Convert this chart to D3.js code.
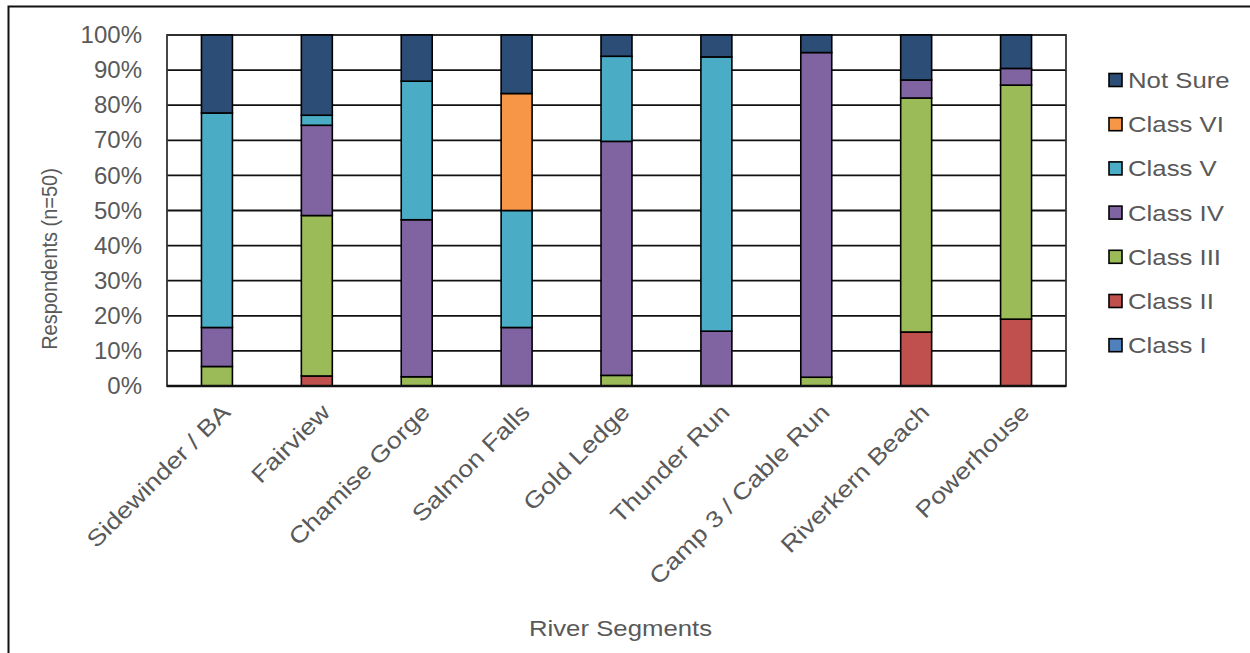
<!DOCTYPE html>
<html>
<head>
<meta charset="utf-8">
<script src="https://cdn.jsdelivr.net/npm/d3@7"></script>
<style>
  html, body { margin: 0; padding: 0; background: #fff; }
  svg { display: block; font-family: "Liberation Sans", Arial, sans-serif; }
</style>
</head>
<body>
<svg id="chart" width="1250" height="653"></svg>
<script>
// River segments surveyed
const categories = ["Sidewinder / BA", "Fairview", "Chamise Gorge", "Salmon Falls", "Gold Ledge",
                    "Thunder Run", "Camp 3 / Cable Run", "Riverkern Beach", "Powerhouse"];

// Percent of respondents per difficulty rating
const classI   = [0, 0, 0, 0, 0, 0, 0, 0, 0];
const classII  = [0, 2.86, 0, 0, 0, 0, 0, 15.38, 19.05];
const classIII = [5.56, 45.71, 2.63, 0, 3.03, 0, 2.5, 66.67, 66.67];
const classIV  = [11.11, 25.71, 44.74, 16.67, 66.67, 15.62, 92.5, 5.13, 4.76];
const classV   = [61.11, 2.86, 39.47, 33.33, 24.24, 78.13, 0, 0, 0];
const classVI  = [0, 0, 0, 33.33, 0, 0, 0, 0, 0];
const notSure  = [22.22, 22.86, 13.16, 16.67, 6.06, 6.25, 5.0, 12.82, 9.52];

const seriesNames = ["Class I", "Class II", "Class III", "Class IV", "Class V", "Class VI", "Not Sure"];
const seriesValues = [classI, classII, classIII, classIV, classV, classVI, notSure];
const seriesColors = ["#4F81BD", "#C0504D", "#9BBB59", "#8064A2", "#4BACC6", "#F79646", "#2C4D75"];

const yTicks = [0, 10, 20, 30, 40, 50, 60, 70, 80, 90, 100];

const svg = d3.select("#chart");
const textColor = "#595959";
const fontSize = 23;
const wide = 1.12; // horizontal stretch used for the wider labels

// outer chart frame
svg.append("rect")
  .attr("x", 8.5).attr("y", 6.5)
  .attr("width", 1300).attr("height", 700)
  .attr("fill", "none").attr("stroke", "#111").attr("stroke-width", 2);

const plot = { left: 167, right: 1066, top: 35, bottom: 386 };

const x = d3.scaleBand().domain(categories).range([plot.left, plot.right]).paddingInner(0.69).paddingOuter(0.345);
const y = d3.scaleLinear().domain([0, 100]).range([plot.bottom, plot.top]);

// horizontal gridlines
svg.append("g")
  .selectAll("line")
  .data(yTicks)
  .join("line")
  .attr("x1", plot.left).attr("x2", plot.right)
  .attr("y1", d => y(d)).attr("y2", d => y(d))
  .attr("stroke", "#111").attr("stroke-width", 1.8);

// plot border
svg.append("rect")
  .attr("x", plot.left).attr("y", plot.top)
  .attr("width", plot.right - plot.left).attr("height", plot.bottom - plot.top)
  .attr("fill", "none").attr("stroke", "#333").attr("stroke-width", 1.8);

// stacked data
const rows = categories.map((c, i) => {
  const r = { category: c };
  seriesNames.forEach((s, k) => { r[s] = seriesValues[k][i]; });
  return r;
});
const stacked = d3.stack().keys(seriesNames)(rows);

svg.append("g")
  .selectAll("g")
  .data(stacked)
  .join("g")
  .attr("fill", (d, i) => seriesColors[i])
  .selectAll("rect")
  .data(d => d.filter(p => p[1] - p[0] > 0))
  .join("rect")
  .attr("x", d => x(d.data.category))
  .attr("width", x.bandwidth())
  .attr("y", d => y(d[1]))
  .attr("height", d => y(d[0]) - y(d[1]))
  .attr("stroke", "#000").attr("stroke-width", 1.6);

// axis baseline
svg.append("line")
  .attr("x1", plot.left).attr("x2", plot.right)
  .attr("y1", plot.bottom).attr("y2", plot.bottom)
  .attr("stroke", "#111").attr("stroke-width", 2.4);

// y axis labels
const yAxis = d3.axisLeft(y).tickValues(yTicks).tickFormat(d => d + "%").tickSize(0).tickPadding(25);
const yg = svg.append("g").attr("transform", `translate(${plot.left},0)`).call(yAxis);
yg.select(".domain").remove();
yg.selectAll("text").attr("fill", textColor).attr("font-size", 24)
  .attr("font-family", "Liberation Sans, Arial, sans-serif");

// x axis labels (rotated)
const xg = svg.append("g");
xg.selectAll("text")
  .data(categories)
  .join("text")
  .attr("transform", d => `translate(${x(d) + x.bandwidth() / 2 + 9},${plot.bottom + 22}) rotate(-45) scale(1.17,1)`)
  .attr("text-anchor", "end")
  .attr("dy", "0.35em")
  .attr("fill", textColor).attr("font-size", fontSize)
  .text(d => d);

// axis titles
svg.append("text")
  .attr("transform", `translate(${(plot.left + plot.right) / 2 + 4},636) scale(${wide},1)`)
  .attr("text-anchor", "middle")
  .attr("fill", textColor).attr("font-size", fontSize)
  .text("River Segments");

svg.append("text")
  .attr("transform", `translate(57,259) rotate(-90) scale(1,1.12)`)
  .attr("text-anchor", "middle")
  .attr("fill", textColor).attr("font-size", 20)
  .text("Respondents (n=50)");

// legend, top entry is the last series
const legendItems = seriesNames.map((n, i) => ({ name: n, color: seriesColors[i] })).reverse();
const lg = svg.append("g").attr("transform", "translate(1109,80)");
const lrow = lg.selectAll("g")
  .data(legendItems)
  .join("g")
  .attr("transform", (d, i) => `translate(0,${i * 44.2})`);
lrow.append("rect")
  .attr("x", 0).attr("y", -6.5).attr("width", 13).attr("height", 13)
  .attr("fill", d => d.color).attr("stroke", "#000").attr("stroke-width", 1.6);
lrow.append("text")
  .attr("transform", `translate(19,0) scale(${wide},1)`)
  .attr("dy", "0.35em")
  .attr("fill", textColor).attr("font-size", fontSize)
  .text(d => d.name);
</script>
</body>
</html>
